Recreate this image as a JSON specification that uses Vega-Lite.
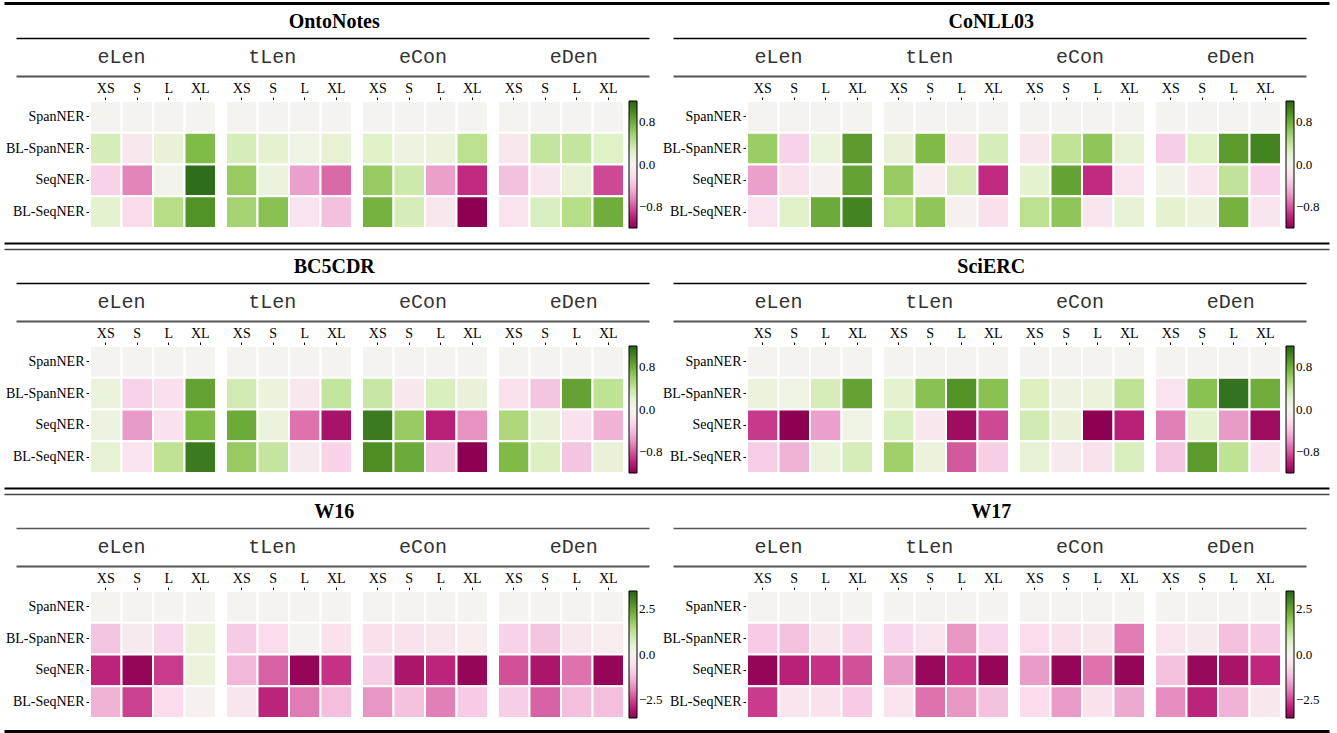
{
"$schema": "https://vega.github.io/schema/vega-lite/v6.json",
"padding": {"left": 5, "top": 0, "right": 0, "bottom": 0},
"config": {
  "font": "Liberation Serif",
  "view": {"stroke": null},
  "title": {"font": "Liberation Serif", "fontSize": 20, "fontWeight": "bold", "color": "black", "anchor": "middle", "offset": 6, "dx": -30},
  "axis": {"labelFont": "Liberation Serif", "labelFontSize": 14, "labelColor": "black", "tickColor": "black", "tickWidth": 1, "grid": false},
  "legend": {"gradientLength": 127, "gradientThickness": 8, "offset": 4, "labelFont": "Liberation Serif", "labelFontSize": 13, "labelColor": "black", "gradientStrokeColor": "black", "gradientStrokeWidth": 1, "labelOffset": 3}
},
"datasets": {
"groups": [{"g":"eLen"},{"g":"tLen"},{"g":"eCon"},{"g":"eDen"}],
"OntoNotes": [
{"g":"eLen","b":"XS","m":"SpanNER","v":0},{"g":"eLen","b":"S","m":"SpanNER","v":0},{"g":"eLen","b":"L","m":"SpanNER","v":0},{"g":"eLen","b":"XL","m":"SpanNER","v":0},
{"g":"tLen","b":"XS","m":"SpanNER","v":0},{"g":"tLen","b":"S","m":"SpanNER","v":0},{"g":"tLen","b":"L","m":"SpanNER","v":0},{"g":"tLen","b":"XL","m":"SpanNER","v":0},
{"g":"eCon","b":"XS","m":"SpanNER","v":0},{"g":"eCon","b":"S","m":"SpanNER","v":0},{"g":"eCon","b":"L","m":"SpanNER","v":0},{"g":"eCon","b":"XL","m":"SpanNER","v":0},
{"g":"eDen","b":"XS","m":"SpanNER","v":0},{"g":"eDen","b":"S","m":"SpanNER","v":0},{"g":"eDen","b":"L","m":"SpanNER","v":0},{"g":"eDen","b":"XL","m":"SpanNER","v":0},
{"g":"eLen","b":"XS","m":"BL-SpanNER","v":0.3},{"g":"eLen","b":"S","m":"BL-SpanNER","v":-0.12},{"g":"eLen","b":"L","m":"BL-SpanNER","v":0.15},{"g":"eLen","b":"XL","m":"BL-SpanNER","v":0.72},
{"g":"tLen","b":"XS","m":"BL-SpanNER","v":0.3},{"g":"tLen","b":"S","m":"BL-SpanNER","v":0.2},{"g":"tLen","b":"L","m":"BL-SpanNER","v":0.07},{"g":"tLen","b":"XL","m":"BL-SpanNER","v":0.17},
{"g":"eCon","b":"XS","m":"BL-SpanNER","v":0.25},{"g":"eCon","b":"S","m":"BL-SpanNER","v":0.1},{"g":"eCon","b":"L","m":"BL-SpanNER","v":0.12},{"g":"eCon","b":"XL","m":"BL-SpanNER","v":0.45},
{"g":"eDen","b":"XS","m":"BL-SpanNER","v":-0.12},{"g":"eDen","b":"S","m":"BL-SpanNER","v":0.4},{"g":"eDen","b":"L","m":"BL-SpanNER","v":0.4},{"g":"eDen","b":"XL","m":"BL-SpanNER","v":0.25},
{"g":"eLen","b":"XS","m":"SeqNER","v":-0.3},{"g":"eLen","b":"S","m":"SeqNER","v":-0.65},{"g":"eLen","b":"L","m":"SeqNER","v":0.03},{"g":"eLen","b":"XL","m":"SeqNER","v":1.15},
{"g":"tLen","b":"XS","m":"SeqNER","v":0.62},{"g":"tLen","b":"S","m":"SeqNER","v":0.12},{"g":"tLen","b":"L","m":"SeqNER","v":-0.55},{"g":"tLen","b":"XL","m":"SeqNER","v":-0.75},
{"g":"eCon","b":"XS","m":"SeqNER","v":0.62},{"g":"eCon","b":"S","m":"SeqNER","v":0.35},{"g":"eCon","b":"L","m":"SeqNER","v":-0.55},{"g":"eCon","b":"XL","m":"SeqNER","v":-0.95},
{"g":"eDen","b":"XS","m":"SeqNER","v":-0.4},{"g":"eDen","b":"S","m":"SeqNER","v":-0.15},{"g":"eDen","b":"L","m":"SeqNER","v":0.17},{"g":"eDen","b":"XL","m":"SeqNER","v":-0.85},
{"g":"eLen","b":"XS","m":"BL-SeqNER","v":0.2},{"g":"eLen","b":"S","m":"BL-SeqNER","v":-0.25},{"g":"eLen","b":"L","m":"BL-SeqNER","v":0.48},{"g":"eLen","b":"XL","m":"BL-SeqNER","v":0.95},
{"g":"tLen","b":"XS","m":"BL-SeqNER","v":0.55},{"g":"tLen","b":"S","m":"BL-SeqNER","v":0.68},{"g":"tLen","b":"L","m":"BL-SeqNER","v":-0.17},{"g":"tLen","b":"XL","m":"BL-SeqNER","v":-0.4},
{"g":"eCon","b":"XS","m":"BL-SeqNER","v":0.77},{"g":"eCon","b":"S","m":"BL-SeqNER","v":0.3},{"g":"eCon","b":"L","m":"BL-SeqNER","v":-0.12},{"g":"eCon","b":"XL","m":"BL-SeqNER","v":-1.2},
{"g":"eDen","b":"XS","m":"BL-SeqNER","v":-0.17},{"g":"eDen","b":"S","m":"BL-SeqNER","v":0.28},{"g":"eDen","b":"L","m":"BL-SeqNER","v":0.48},{"g":"eDen","b":"XL","m":"BL-SeqNER","v":0.8}
],
"CoNLL03": [
{"g":"eLen","b":"XS","m":"SpanNER","v":0},{"g":"eLen","b":"S","m":"SpanNER","v":0},{"g":"eLen","b":"L","m":"SpanNER","v":0},{"g":"eLen","b":"XL","m":"SpanNER","v":0},
{"g":"tLen","b":"XS","m":"SpanNER","v":0},{"g":"tLen","b":"S","m":"SpanNER","v":0},{"g":"tLen","b":"L","m":"SpanNER","v":0},{"g":"tLen","b":"XL","m":"SpanNER","v":0},
{"g":"eCon","b":"XS","m":"SpanNER","v":0},{"g":"eCon","b":"S","m":"SpanNER","v":0},{"g":"eCon","b":"L","m":"SpanNER","v":0},{"g":"eCon","b":"XL","m":"SpanNER","v":0},
{"g":"eDen","b":"XS","m":"SpanNER","v":0},{"g":"eDen","b":"S","m":"SpanNER","v":0},{"g":"eDen","b":"L","m":"SpanNER","v":0},{"g":"eDen","b":"XL","m":"SpanNER","v":0},
{"g":"eLen","b":"XS","m":"BL-SpanNER","v":0.6},{"g":"eLen","b":"S","m":"BL-SpanNER","v":-0.3},{"g":"eLen","b":"L","m":"BL-SpanNER","v":0.12},{"g":"eLen","b":"XL","m":"BL-SpanNER","v":0.9},
{"g":"tLen","b":"XS","m":"BL-SpanNER","v":0.15},{"g":"tLen","b":"S","m":"BL-SpanNER","v":0.72},{"g":"tLen","b":"L","m":"BL-SpanNER","v":-0.12},{"g":"tLen","b":"XL","m":"BL-SpanNER","v":0.3},
{"g":"eCon","b":"XS","m":"BL-SpanNER","v":-0.12},{"g":"eCon","b":"S","m":"BL-SpanNER","v":0.42},{"g":"eCon","b":"L","m":"BL-SpanNER","v":0.65},{"g":"eCon","b":"XL","m":"BL-SpanNER","v":0.17},
{"g":"eDen","b":"XS","m":"BL-SpanNER","v":-0.32},{"g":"eDen","b":"S","m":"BL-SpanNER","v":0.25},{"g":"eDen","b":"L","m":"BL-SpanNER","v":0.9},{"g":"eDen","b":"XL","m":"BL-SpanNER","v":1.03},
{"g":"eLen","b":"XS","m":"SeqNER","v":-0.55},{"g":"eLen","b":"S","m":"SeqNER","v":-0.2},{"g":"eLen","b":"L","m":"SeqNER","v":-0.03},{"g":"eLen","b":"XL","m":"SeqNER","v":0.86},
{"g":"tLen","b":"XS","m":"SeqNER","v":0.62},{"g":"tLen","b":"S","m":"SeqNER","v":-0.05},{"g":"tLen","b":"L","m":"SeqNER","v":0.3},{"g":"tLen","b":"XL","m":"SeqNER","v":-0.95},
{"g":"eCon","b":"XS","m":"SeqNER","v":0.2},{"g":"eCon","b":"S","m":"SeqNER","v":0.86},{"g":"eCon","b":"L","m":"SeqNER","v":-0.95},{"g":"eCon","b":"XL","m":"SeqNER","v":-0.17},
{"g":"eDen","b":"XS","m":"SeqNER","v":0.05},{"g":"eDen","b":"S","m":"SeqNER","v":-0.15},{"g":"eDen","b":"L","m":"SeqNER","v":0.42},{"g":"eDen","b":"XL","m":"SeqNER","v":-0.3},
{"g":"eLen","b":"XS","m":"BL-SeqNER","v":-0.17},{"g":"eLen","b":"S","m":"BL-SeqNER","v":0.25},{"g":"eLen","b":"L","m":"BL-SeqNER","v":0.82},{"g":"eLen","b":"XL","m":"BL-SeqNER","v":1.03},
{"g":"tLen","b":"XS","m":"BL-SeqNER","v":0.45},{"g":"tLen","b":"S","m":"BL-SeqNER","v":0.65},{"g":"tLen","b":"L","m":"BL-SeqNER","v":-0.03},{"g":"tLen","b":"XL","m":"BL-SeqNER","v":-0.22},
{"g":"eCon","b":"XS","m":"BL-SeqNER","v":0.45},{"g":"eCon","b":"S","m":"BL-SeqNER","v":0.65},{"g":"eCon","b":"L","m":"BL-SeqNER","v":-0.15},{"g":"eCon","b":"XL","m":"BL-SeqNER","v":0.17},
{"g":"eDen","b":"XS","m":"BL-SeqNER","v":0.2},{"g":"eDen","b":"S","m":"BL-SeqNER","v":0.12},{"g":"eDen","b":"L","m":"BL-SeqNER","v":0.77},{"g":"eDen","b":"XL","m":"BL-SeqNER","v":-0.15}
],
"BC5CDR": [
{"g":"eLen","b":"XS","m":"SpanNER","v":0},{"g":"eLen","b":"S","m":"SpanNER","v":0},{"g":"eLen","b":"L","m":"SpanNER","v":0},{"g":"eLen","b":"XL","m":"SpanNER","v":0},
{"g":"tLen","b":"XS","m":"SpanNER","v":0},{"g":"tLen","b":"S","m":"SpanNER","v":0},{"g":"tLen","b":"L","m":"SpanNER","v":0},{"g":"tLen","b":"XL","m":"SpanNER","v":0},
{"g":"eCon","b":"XS","m":"SpanNER","v":0},{"g":"eCon","b":"S","m":"SpanNER","v":0},{"g":"eCon","b":"L","m":"SpanNER","v":0},{"g":"eCon","b":"XL","m":"SpanNER","v":0},
{"g":"eDen","b":"XS","m":"SpanNER","v":0},{"g":"eDen","b":"S","m":"SpanNER","v":0},{"g":"eDen","b":"L","m":"SpanNER","v":0},{"g":"eDen","b":"XL","m":"SpanNER","v":0},
{"g":"eLen","b":"XS","m":"BL-SpanNER","v":0.12},{"g":"eLen","b":"S","m":"BL-SpanNER","v":-0.3},{"g":"eLen","b":"L","m":"BL-SpanNER","v":-0.22},{"g":"eLen","b":"XL","m":"BL-SpanNER","v":0.86},
{"g":"tLen","b":"XS","m":"BL-SpanNER","v":0.33},{"g":"tLen","b":"S","m":"BL-SpanNER","v":0.12},{"g":"tLen","b":"L","m":"BL-SpanNER","v":-0.12},{"g":"tLen","b":"XL","m":"BL-SpanNER","v":0.4},
{"g":"eCon","b":"XS","m":"BL-SpanNER","v":0.38},{"g":"eCon","b":"S","m":"BL-SpanNER","v":-0.12},{"g":"eCon","b":"L","m":"BL-SpanNER","v":0.28},{"g":"eCon","b":"XL","m":"BL-SpanNER","v":0.15},
{"g":"eDen","b":"XS","m":"BL-SpanNER","v":-0.2},{"g":"eDen","b":"S","m":"BL-SpanNER","v":-0.38},{"g":"eDen","b":"L","m":"BL-SpanNER","v":0.86},{"g":"eDen","b":"XL","m":"BL-SpanNER","v":0.43},
{"g":"eLen","b":"XS","m":"SeqNER","v":0.1},{"g":"eLen","b":"S","m":"SeqNER","v":-0.57},{"g":"eLen","b":"L","m":"SeqNER","v":-0.2},{"g":"eLen","b":"XL","m":"SeqNER","v":0.72},
{"g":"tLen","b":"XS","m":"SeqNER","v":0.82},{"g":"tLen","b":"S","m":"SeqNER","v":0.12},{"g":"tLen","b":"L","m":"SeqNER","v":-0.72},{"g":"tLen","b":"XL","m":"SeqNER","v":-1.08},
{"g":"eCon","b":"XS","m":"SeqNER","v":1.08},{"g":"eCon","b":"S","m":"SeqNER","v":0.62},{"g":"eCon","b":"L","m":"SeqNER","v":-1.0},{"g":"eCon","b":"XL","m":"SeqNER","v":-0.6},
{"g":"eDen","b":"XS","m":"SeqNER","v":0.52},{"g":"eDen","b":"S","m":"SeqNER","v":0.15},{"g":"eDen","b":"L","m":"SeqNER","v":-0.2},{"g":"eDen","b":"XL","m":"SeqNER","v":-0.48},
{"g":"eLen","b":"XS","m":"BL-SeqNER","v":0.17},{"g":"eLen","b":"S","m":"BL-SeqNER","v":-0.17},{"g":"eLen","b":"L","m":"BL-SeqNER","v":0.43},{"g":"eLen","b":"XL","m":"BL-SeqNER","v":1.08},
{"g":"tLen","b":"XS","m":"BL-SeqNER","v":0.62},{"g":"tLen","b":"S","m":"BL-SeqNER","v":0.4},{"g":"tLen","b":"L","m":"BL-SeqNER","v":-0.1},{"g":"tLen","b":"XL","m":"BL-SeqNER","v":-0.3},
{"g":"eCon","b":"XS","m":"BL-SeqNER","v":0.98},{"g":"eCon","b":"S","m":"BL-SeqNER","v":0.82},{"g":"eCon","b":"L","m":"BL-SeqNER","v":-0.36},{"g":"eCon","b":"XL","m":"BL-SeqNER","v":-1.2},
{"g":"eDen","b":"XS","m":"BL-SeqNER","v":0.72},{"g":"eDen","b":"S","m":"BL-SeqNER","v":0.27},{"g":"eDen","b":"L","m":"BL-SeqNER","v":-0.38},{"g":"eDen","b":"XL","m":"BL-SeqNER","v":0.15}
],
"SciERC": [
{"g":"eLen","b":"XS","m":"SpanNER","v":0},{"g":"eLen","b":"S","m":"SpanNER","v":0},{"g":"eLen","b":"L","m":"SpanNER","v":0},{"g":"eLen","b":"XL","m":"SpanNER","v":0},
{"g":"tLen","b":"XS","m":"SpanNER","v":0},{"g":"tLen","b":"S","m":"SpanNER","v":0},{"g":"tLen","b":"L","m":"SpanNER","v":0},{"g":"tLen","b":"XL","m":"SpanNER","v":0},
{"g":"eCon","b":"XS","m":"SpanNER","v":0},{"g":"eCon","b":"S","m":"SpanNER","v":0},{"g":"eCon","b":"L","m":"SpanNER","v":0},{"g":"eCon","b":"XL","m":"SpanNER","v":0},
{"g":"eDen","b":"XS","m":"SpanNER","v":0},{"g":"eDen","b":"S","m":"SpanNER","v":0},{"g":"eDen","b":"L","m":"SpanNER","v":0},{"g":"eDen","b":"XL","m":"SpanNER","v":0},
{"g":"eLen","b":"XS","m":"BL-SpanNER","v":0.12},{"g":"eLen","b":"S","m":"BL-SpanNER","v":0.07},{"g":"eLen","b":"L","m":"BL-SpanNER","v":0.3},{"g":"eLen","b":"XL","m":"BL-SpanNER","v":0.86},
{"g":"tLen","b":"XS","m":"BL-SpanNER","v":0.2},{"g":"tLen","b":"S","m":"BL-SpanNER","v":0.68},{"g":"tLen","b":"L","m":"BL-SpanNER","v":0.95},{"g":"tLen","b":"XL","m":"BL-SpanNER","v":0.68},
{"g":"eCon","b":"XS","m":"BL-SpanNER","v":0.27},{"g":"eCon","b":"S","m":"BL-SpanNER","v":0.1},{"g":"eCon","b":"L","m":"BL-SpanNER","v":0.12},{"g":"eCon","b":"XL","m":"BL-SpanNER","v":0.43},
{"g":"eDen","b":"XS","m":"BL-SpanNER","v":-0.17},{"g":"eDen","b":"S","m":"BL-SpanNER","v":0.68},{"g":"eDen","b":"L","m":"BL-SpanNER","v":1.12},{"g":"eDen","b":"XL","m":"BL-SpanNER","v":0.8},
{"g":"eLen","b":"XS","m":"SeqNER","v":-0.9},{"g":"eLen","b":"S","m":"SeqNER","v":-1.2},{"g":"eLen","b":"L","m":"SeqNER","v":-0.55},{"g":"eLen","b":"XL","m":"SeqNER","v":0.07},
{"g":"tLen","b":"XS","m":"SeqNER","v":0.28},{"g":"tLen","b":"S","m":"SeqNER","v":-0.12},{"g":"tLen","b":"L","m":"SeqNER","v":-1.12},{"g":"tLen","b":"XL","m":"SeqNER","v":-0.85},
{"g":"eCon","b":"XS","m":"SeqNER","v":0.33},{"g":"eCon","b":"S","m":"SeqNER","v":0.15},{"g":"eCon","b":"L","m":"SeqNER","v":-1.2},{"g":"eCon","b":"XL","m":"SeqNER","v":-1.0},
{"g":"eDen","b":"XS","m":"SeqNER","v":-0.67},{"g":"eDen","b":"S","m":"SeqNER","v":0.2},{"g":"eDen","b":"L","m":"SeqNER","v":-0.57},{"g":"eDen","b":"XL","m":"SeqNER","v":-1.12},
{"g":"eLen","b":"XS","m":"BL-SeqNER","v":-0.33},{"g":"eLen","b":"S","m":"BL-SeqNER","v":-0.48},{"g":"eLen","b":"L","m":"BL-SeqNER","v":0.12},{"g":"eLen","b":"XL","m":"BL-SeqNER","v":0.3},
{"g":"tLen","b":"XS","m":"BL-SeqNER","v":0.58},{"g":"tLen","b":"S","m":"BL-SeqNER","v":0.12},{"g":"tLen","b":"L","m":"BL-SeqNER","v":-0.8},{"g":"tLen","b":"XL","m":"BL-SeqNER","v":-0.32},
{"g":"eCon","b":"XS","m":"BL-SeqNER","v":0.17},{"g":"eCon","b":"S","m":"BL-SeqNER","v":-0.1},{"g":"eCon","b":"L","m":"BL-SeqNER","v":-0.2},{"g":"eCon","b":"XL","m":"BL-SeqNER","v":0.28},
{"g":"eDen","b":"XS","m":"BL-SeqNER","v":-0.36},{"g":"eDen","b":"S","m":"BL-SeqNER","v":0.9},{"g":"eDen","b":"L","m":"BL-SeqNER","v":0.43},{"g":"eDen","b":"XL","m":"BL-SeqNER","v":-0.2}
],
"W16": [
{"g":"eLen","b":"XS","m":"SpanNER","v":0},{"g":"eLen","b":"S","m":"SpanNER","v":0},{"g":"eLen","b":"L","m":"SpanNER","v":0},{"g":"eLen","b":"XL","m":"SpanNER","v":0},
{"g":"tLen","b":"XS","m":"SpanNER","v":0},{"g":"tLen","b":"S","m":"SpanNER","v":0},{"g":"tLen","b":"L","m":"SpanNER","v":0},{"g":"tLen","b":"XL","m":"SpanNER","v":0},
{"g":"eCon","b":"XS","m":"SpanNER","v":0},{"g":"eCon","b":"S","m":"SpanNER","v":0},{"g":"eCon","b":"L","m":"SpanNER","v":0},{"g":"eCon","b":"XL","m":"SpanNER","v":0},
{"g":"eDen","b":"XS","m":"SpanNER","v":0},{"g":"eDen","b":"S","m":"SpanNER","v":0},{"g":"eDen","b":"L","m":"SpanNER","v":0},{"g":"eDen","b":"XL","m":"SpanNER","v":0},
{"g":"eLen","b":"XS","m":"BL-SpanNER","v":-1.1},{"g":"eLen","b":"S","m":"BL-SpanNER","v":-0.3},{"g":"eLen","b":"L","m":"BL-SpanNER","v":-0.8},{"g":"eLen","b":"XL","m":"BL-SpanNER","v":0.35},
{"g":"tLen","b":"XS","m":"BL-SpanNER","v":-1.0},{"g":"tLen","b":"S","m":"BL-SpanNER","v":-0.72},{"g":"tLen","b":"L","m":"BL-SpanNER","v":0.0},{"g":"tLen","b":"XL","m":"BL-SpanNER","v":-0.58},
{"g":"eCon","b":"XS","m":"BL-SpanNER","v":-0.65},{"g":"eCon","b":"S","m":"BL-SpanNER","v":-0.58},{"g":"eCon","b":"L","m":"BL-SpanNER","v":-0.36},{"g":"eCon","b":"XL","m":"BL-SpanNER","v":-0.22},
{"g":"eDen","b":"XS","m":"BL-SpanNER","v":-0.86},{"g":"eDen","b":"S","m":"BL-SpanNER","v":-1.1},{"g":"eDen","b":"L","m":"BL-SpanNER","v":-0.36},{"g":"eDen","b":"XL","m":"BL-SpanNER","v":-0.22},
{"g":"eLen","b":"XS","m":"SeqNER","v":-2.85},{"g":"eLen","b":"S","m":"SeqNER","v":-3.4},{"g":"eLen","b":"L","m":"SeqNER","v":-2.6},{"g":"eLen","b":"XL","m":"SeqNER","v":0.35},
{"g":"tLen","b":"XS","m":"SeqNER","v":-1.35},{"g":"tLen","b":"S","m":"SeqNER","v":-2.25},{"g":"tLen","b":"L","m":"SeqNER","v":-3.4},{"g":"tLen","b":"XL","m":"SeqNER","v":-2.7},
{"g":"eCon","b":"XS","m":"SeqNER","v":-0.93},{"g":"eCon","b":"S","m":"SeqNER","v":-3.1},{"g":"eCon","b":"L","m":"SeqNER","v":-2.85},{"g":"eCon","b":"XL","m":"SeqNER","v":-3.4},
{"g":"eDen","b":"XS","m":"SeqNER","v":-2.4},{"g":"eDen","b":"S","m":"SeqNER","v":-3.1},{"g":"eDen","b":"L","m":"SeqNER","v":-2.1},{"g":"eDen","b":"XL","m":"SeqNER","v":-3.4},
{"g":"eLen","b":"XS","m":"BL-SeqNER","v":-1.4},{"g":"eLen","b":"S","m":"BL-SeqNER","v":-2.55},{"g":"eLen","b":"L","m":"BL-SeqNER","v":-0.72},{"g":"eLen","b":"XL","m":"BL-SeqNER","v":-0.07},
{"g":"tLen","b":"XS","m":"BL-SeqNER","v":-0.43},{"g":"tLen","b":"S","m":"BL-SeqNER","v":-2.85},{"g":"tLen","b":"L","m":"BL-SeqNER","v":-2.0},{"g":"tLen","b":"XL","m":"BL-SeqNER","v":-1.2},
{"g":"eCon","b":"XS","m":"BL-SeqNER","v":-1.7},{"g":"eCon","b":"S","m":"BL-SeqNER","v":-1.15},{"g":"eCon","b":"L","m":"BL-SeqNER","v":-1.95},{"g":"eCon","b":"XL","m":"BL-SeqNER","v":-1.0},
{"g":"eDen","b":"XS","m":"BL-SeqNER","v":-0.93},{"g":"eDen","b":"S","m":"BL-SeqNER","v":-2.25},{"g":"eDen","b":"L","m":"BL-SeqNER","v":-1.2},{"g":"eDen","b":"XL","m":"BL-SeqNER","v":-1.2}
],
"W17": [
{"g":"eLen","b":"XS","m":"SpanNER","v":0},{"g":"eLen","b":"S","m":"SpanNER","v":0},{"g":"eLen","b":"L","m":"SpanNER","v":0},{"g":"eLen","b":"XL","m":"SpanNER","v":0},
{"g":"tLen","b":"XS","m":"SpanNER","v":0},{"g":"tLen","b":"S","m":"SpanNER","v":0},{"g":"tLen","b":"L","m":"SpanNER","v":0},{"g":"tLen","b":"XL","m":"SpanNER","v":0},
{"g":"eCon","b":"XS","m":"SpanNER","v":0},{"g":"eCon","b":"S","m":"SpanNER","v":0},{"g":"eCon","b":"L","m":"SpanNER","v":0},{"g":"eCon","b":"XL","m":"SpanNER","v":0},
{"g":"eDen","b":"XS","m":"SpanNER","v":0},{"g":"eDen","b":"S","m":"SpanNER","v":0},{"g":"eDen","b":"L","m":"SpanNER","v":0},{"g":"eDen","b":"XL","m":"SpanNER","v":0},
{"g":"eLen","b":"XS","m":"BL-SpanNER","v":-1.0},{"g":"eLen","b":"S","m":"BL-SpanNER","v":-1.15},{"g":"eLen","b":"L","m":"BL-SpanNER","v":-0.36},{"g":"eLen","b":"XL","m":"BL-SpanNER","v":-0.86},
{"g":"tLen","b":"XS","m":"BL-SpanNER","v":-0.8},{"g":"tLen","b":"S","m":"BL-SpanNER","v":-0.5},{"g":"tLen","b":"L","m":"BL-SpanNER","v":-1.7},{"g":"tLen","b":"XL","m":"BL-SpanNER","v":-0.8},
{"g":"eCon","b":"XS","m":"BL-SpanNER","v":-0.72},{"g":"eCon","b":"S","m":"BL-SpanNER","v":-0.65},{"g":"eCon","b":"L","m":"BL-SpanNER","v":-0.36},{"g":"eCon","b":"XL","m":"BL-SpanNER","v":-2.0},
{"g":"eDen","b":"XS","m":"BL-SpanNER","v":-0.5},{"g":"eDen","b":"S","m":"BL-SpanNER","v":-0.3},{"g":"eDen","b":"L","m":"BL-SpanNER","v":-1.2},{"g":"eDen","b":"XL","m":"BL-SpanNER","v":-1.0},
{"g":"eLen","b":"XS","m":"SeqNER","v":-3.4},{"g":"eLen","b":"S","m":"SeqNER","v":-2.9},{"g":"eLen","b":"L","m":"SeqNER","v":-2.7},{"g":"eLen","b":"XL","m":"SeqNER","v":-2.4},
{"g":"tLen","b":"XS","m":"SeqNER","v":-1.65},{"g":"tLen","b":"S","m":"SeqNER","v":-3.35},{"g":"tLen","b":"L","m":"SeqNER","v":-2.7},{"g":"tLen","b":"XL","m":"SeqNER","v":-3.4},
{"g":"eCon","b":"XS","m":"SeqNER","v":-1.65},{"g":"eCon","b":"S","m":"SeqNER","v":-3.4},{"g":"eCon","b":"L","m":"SeqNER","v":-2.1},{"g":"eCon","b":"XL","m":"SeqNER","v":-3.4},
{"g":"eDen","b":"XS","m":"SeqNER","v":-1.15},{"g":"eDen","b":"S","m":"SeqNER","v":-3.35},{"g":"eDen","b":"L","m":"SeqNER","v":-3.15},{"g":"eDen","b":"XL","m":"SeqNER","v":-2.8},
{"g":"eLen","b":"XS","m":"BL-SeqNER","v":-2.6},{"g":"eLen","b":"S","m":"BL-SeqNER","v":-0.43},{"g":"eLen","b":"L","m":"BL-SeqNER","v":-0.58},{"g":"eLen","b":"XL","m":"BL-SeqNER","v":-1.0},
{"g":"tLen","b":"XS","m":"BL-SeqNER","v":-0.5},{"g":"tLen","b":"S","m":"BL-SeqNER","v":-2.1},{"g":"tLen","b":"L","m":"BL-SeqNER","v":-1.7},{"g":"tLen","b":"XL","m":"BL-SeqNER","v":-1.15},
{"g":"eCon","b":"XS","m":"BL-SeqNER","v":-0.72},{"g":"eCon","b":"S","m":"BL-SeqNER","v":-1.65},{"g":"eCon","b":"L","m":"BL-SeqNER","v":-0.58},{"g":"eCon","b":"XL","m":"BL-SeqNER","v":-1.5},
{"g":"eDen","b":"XS","m":"BL-SeqNER","v":-1.8},{"g":"eDen","b":"S","m":"BL-SeqNER","v":-2.85},{"g":"eDen","b":"L","m":"BL-SeqNER","v":-1.4},{"g":"eDen","b":"XL","m":"BL-SeqNER","v":-0.36}
]
},
"spacing": 8,
"resolve": {"scale": {"x": "independent", "y": "independent", "color": "independent"}},
"vconcat": [
{"spacing": 14,
 "resolve": {"scale": {"x": "independent", "y": "independent", "color": "independent"}},
 "vconcat": [
  {"spacing": 5,
   "resolve": {"scale": {"x": "independent", "y": "independent", "color": "independent"}},
   "vconcat": [
    {"width": 1239, "height": 1, "data": {"name": "groups"}, "mark": {"type": "point", "opacity": 0},
     "encoding": {"x": {"field": "g", "type": "nominal", "sort": null, "title": null, "scale": {"range": [-86, 1239]}, "axis": {"orient": "top", "labels": false, "ticks": false, "domainColor": "black", "domainWidth": 3}}}},
    {"spacing": -61, "resolve": {"scale": {"x": "independent", "y": "independent", "color": "independent"}},
     "hconcat": [
      {"title": {"text": "OntoNotes"}, "spacing": 5,
       "resolve": {"scale": {"x": "independent", "y": "independent", "color": "independent"}},
       "vconcat": [
        {"data": {"name": "groups"}, "width": 559, "height": 38,
         "layer": [
          {"mark": {"type": "text", "font": "Liberation Mono", "fontSize": 20, "color": "#333"},
           "encoding": {"x": {"field": "g", "type": "nominal", "sort": null, "title": null, "scale": {"type": "band", "range": [-74, 559], "paddingInner": 0, "paddingOuter": 0.1, "align": 1}, "axis": {"orient": "top", "labels": false, "ticks": false, "domainColor": "black", "domainWidth": 1.3}}, "y": {"datum": 0, "type": "quantitative", "scale": {"domain": [-1, 1]}, "axis": null}, "text": {"field": "g"}}},
          {"mark": {"type": "text", "opacity": 0},
           "encoding": {"x": {"field": "g", "type": "nominal", "sort": null, "title": null, "axis": {"orient": "bottom", "labels": false, "ticks": false, "domainColor": "#555", "domainWidth": 2}}, "text": {"field": "g"}}}
         ],
         "resolve": {"axis": {"x": "independent"}}},
        {"data": {"name": "OntoNotes"}, "spacing": 8,
         "facet": {"column": {"field": "g", "type": "nominal", "sort": ["eLen","tLen","eCon","eDen"], "header": {"labels": false, "title": null}}},
         "spec": {"width": 126, "height": 127, "mark": {"type": "rect", "stroke": "white", "strokeWidth": 2},
          "encoding": {
           "x": {"field": "b", "type": "nominal", "sort": ["XS","S","L","XL"], "title": null, "axis": {"orient": "top", "labelAngle": 0, "domain": false, "tickSize": 3, "labelPadding": 2}},
           "y": {"field": "m", "type": "nominal", "sort": ["SpanNER","BL-SpanNER","SeqNER","BL-SeqNER"], "title": null, "axis": {"domain": false, "tickSize": 3, "labelPadding": 2}},
           "color": {"field": "v", "type": "quantitative", "title": null, "scale": {"scheme": "pinkyellowgreen", "domain": [-1.2, 1.2]}, "legend": {"values": [-0.8, 0, 0.8], "format": ".1f"}}}}}
       ]},
      {"title": {"text": "CoNLL03"}, "spacing": 5,
       "resolve": {"scale": {"x": "independent", "y": "independent", "color": "independent"}},
       "vconcat": [
        {"data": {"name": "groups"}, "width": 559, "height": 38,
         "layer": [
          {"mark": {"type": "text", "font": "Liberation Mono", "fontSize": 20, "color": "#333"},
           "encoding": {"x": {"field": "g", "type": "nominal", "sort": null, "title": null, "scale": {"type": "band", "range": [-74, 559], "paddingInner": 0, "paddingOuter": 0.1, "align": 1}, "axis": {"orient": "top", "labels": false, "ticks": false, "domainColor": "black", "domainWidth": 1.3}}, "y": {"datum": 0, "type": "quantitative", "scale": {"domain": [-1, 1]}, "axis": null}, "text": {"field": "g"}}},
          {"mark": {"type": "text", "opacity": 0},
           "encoding": {"x": {"field": "g", "type": "nominal", "sort": null, "title": null, "axis": {"orient": "bottom", "labels": false, "ticks": false, "domainColor": "#555", "domainWidth": 2}}, "text": {"field": "g"}}}
         ],
         "resolve": {"axis": {"x": "independent"}}},
        {"data": {"name": "CoNLL03"}, "spacing": 8,
         "facet": {"column": {"field": "g", "type": "nominal", "sort": ["eLen","tLen","eCon","eDen"], "header": {"labels": false, "title": null}}},
         "spec": {"width": 126, "height": 127, "mark": {"type": "rect", "stroke": "white", "strokeWidth": 2},
          "encoding": {
           "x": {"field": "b", "type": "nominal", "sort": ["XS","S","L","XL"], "title": null, "axis": {"orient": "top", "labelAngle": 0, "domain": false, "tickSize": 3, "labelPadding": 2}},
           "y": {"field": "m", "type": "nominal", "sort": ["SpanNER","BL-SpanNER","SeqNER","BL-SeqNER"], "title": null, "axis": {"domain": false, "tickSize": 3, "labelPadding": 2}},
           "color": {"field": "v", "type": "quantitative", "title": null, "scale": {"scheme": "pinkyellowgreen", "domain": [-1.2, 1.2]}, "legend": {"values": [-0.8, 0, 0.8], "format": ".1f"}}}}}
       ]}
     ]}
   ]},
  {"width": 1239, "height": 6, "data": {"name": "groups"},
   "layer": [
    {"mark": {"type": "point", "opacity": 0}, "encoding": {"x": {"field": "g", "type": "nominal", "sort": null, "title": null, "scale": {"range": [-86, 1239]}, "axis": {"orient": "top", "labels": false, "ticks": false, "domainColor": "black", "domainWidth": 2}}, "y": {"datum": 0, "type": "quantitative", "scale": {"domain": [-1, 1]}, "axis": null}}},
    {"mark": {"type": "point", "opacity": 0}, "encoding": {"x": {"field": "g", "type": "nominal", "sort": null, "title": null, "axis": {"orient": "bottom", "labels": false, "ticks": false, "domainColor": "#444", "domainWidth": 1.5}}}}
   ],
   "resolve": {"axis": {"x": "independent"}}}
 ]},
{"spacing": 14,
 "resolve": {"scale": {"x": "independent", "y": "independent", "color": "independent"}},
 "vconcat": [
  {"spacing": -61, "resolve": {"scale": {"x": "independent", "y": "independent", "color": "independent"}},
   "hconcat": [
    {"title": {"text": "BC5CDR"}, "spacing": 5,
     "resolve": {"scale": {"x": "independent", "y": "independent", "color": "independent"}},
     "vconcat": [
      {"data": {"name": "groups"}, "width": 559, "height": 38,
       "layer": [
        {"mark": {"type": "text", "font": "Liberation Mono", "fontSize": 20, "color": "#333"},
         "encoding": {"x": {"field": "g", "type": "nominal", "sort": null, "title": null, "scale": {"type": "band", "range": [-74, 559], "paddingInner": 0, "paddingOuter": 0.1, "align": 1}, "axis": {"orient": "top", "labels": false, "ticks": false, "domainColor": "black", "domainWidth": 1.3}}, "y": {"datum": 0, "type": "quantitative", "scale": {"domain": [-1, 1]}, "axis": null}, "text": {"field": "g"}}},
        {"mark": {"type": "text", "opacity": 0},
         "encoding": {"x": {"field": "g", "type": "nominal", "sort": null, "title": null, "axis": {"orient": "bottom", "labels": false, "ticks": false, "domainColor": "#555", "domainWidth": 2}}, "text": {"field": "g"}}}
       ],
       "resolve": {"axis": {"x": "independent"}}},
      {"data": {"name": "BC5CDR"}, "spacing": 8,
       "facet": {"column": {"field": "g", "type": "nominal", "sort": ["eLen","tLen","eCon","eDen"], "header": {"labels": false, "title": null}}},
       "spec": {"width": 126, "height": 127, "mark": {"type": "rect", "stroke": "white", "strokeWidth": 2},
        "encoding": {
         "x": {"field": "b", "type": "nominal", "sort": ["XS","S","L","XL"], "title": null, "axis": {"orient": "top", "labelAngle": 0, "domain": false, "tickSize": 3, "labelPadding": 2}},
         "y": {"field": "m", "type": "nominal", "sort": ["SpanNER","BL-SpanNER","SeqNER","BL-SeqNER"], "title": null, "axis": {"domain": false, "tickSize": 3, "labelPadding": 2}},
         "color": {"field": "v", "type": "quantitative", "title": null, "scale": {"scheme": "pinkyellowgreen", "domain": [-1.2, 1.2]}, "legend": {"values": [-0.8, 0, 0.8], "format": ".1f"}}}}}
     ]},
    {"title": {"text": "SciERC"}, "spacing": 5,
     "resolve": {"scale": {"x": "independent", "y": "independent", "color": "independent"}},
     "vconcat": [
      {"data": {"name": "groups"}, "width": 559, "height": 38,
       "layer": [
        {"mark": {"type": "text", "font": "Liberation Mono", "fontSize": 20, "color": "#333"},
         "encoding": {"x": {"field": "g", "type": "nominal", "sort": null, "title": null, "scale": {"type": "band", "range": [-74, 559], "paddingInner": 0, "paddingOuter": 0.1, "align": 1}, "axis": {"orient": "top", "labels": false, "ticks": false, "domainColor": "black", "domainWidth": 1.3}}, "y": {"datum": 0, "type": "quantitative", "scale": {"domain": [-1, 1]}, "axis": null}, "text": {"field": "g"}}},
        {"mark": {"type": "text", "opacity": 0},
         "encoding": {"x": {"field": "g", "type": "nominal", "sort": null, "title": null, "axis": {"orient": "bottom", "labels": false, "ticks": false, "domainColor": "#555", "domainWidth": 2}}, "text": {"field": "g"}}}
       ],
       "resolve": {"axis": {"x": "independent"}}},
      {"data": {"name": "SciERC"}, "spacing": 8,
       "facet": {"column": {"field": "g", "type": "nominal", "sort": ["eLen","tLen","eCon","eDen"], "header": {"labels": false, "title": null}}},
       "spec": {"width": 126, "height": 127, "mark": {"type": "rect", "stroke": "white", "strokeWidth": 2},
        "encoding": {
         "x": {"field": "b", "type": "nominal", "sort": ["XS","S","L","XL"], "title": null, "axis": {"orient": "top", "labelAngle": 0, "domain": false, "tickSize": 3, "labelPadding": 2}},
         "y": {"field": "m", "type": "nominal", "sort": ["SpanNER","BL-SpanNER","SeqNER","BL-SeqNER"], "title": null, "axis": {"domain": false, "tickSize": 3, "labelPadding": 2}},
         "color": {"field": "v", "type": "quantitative", "title": null, "scale": {"scheme": "pinkyellowgreen", "domain": [-1.2, 1.2]}, "legend": {"values": [-0.8, 0, 0.8], "format": ".1f"}}}}}
     ]}
   ]},
  {"width": 1239, "height": 6, "data": {"name": "groups"},
   "layer": [
    {"mark": {"type": "point", "opacity": 0}, "encoding": {"x": {"field": "g", "type": "nominal", "sort": null, "title": null, "scale": {"range": [-86, 1239]}, "axis": {"orient": "top", "labels": false, "ticks": false, "domainColor": "black", "domainWidth": 2}}, "y": {"datum": 0, "type": "quantitative", "scale": {"domain": [-1, 1]}, "axis": null}}},
    {"mark": {"type": "point", "opacity": 0}, "encoding": {"x": {"field": "g", "type": "nominal", "sort": null, "title": null, "axis": {"orient": "bottom", "labels": false, "ticks": false, "domainColor": "#444", "domainWidth": 1.5}}}}
   ],
   "resolve": {"axis": {"x": "independent"}}}
 ]},
{"spacing": 9,
 "resolve": {"scale": {"x": "independent", "y": "independent", "color": "independent"}},
 "vconcat": [
  {"spacing": -61, "resolve": {"scale": {"x": "independent", "y": "independent", "color": "independent"}},
   "hconcat": [
    {"title": {"text": "W16"}, "spacing": 5,
     "resolve": {"scale": {"x": "independent", "y": "independent", "color": "independent"}},
     "vconcat": [
      {"data": {"name": "groups"}, "width": 559, "height": 38,
       "layer": [
        {"mark": {"type": "text", "font": "Liberation Mono", "fontSize": 20, "color": "#333"},
         "encoding": {"x": {"field": "g", "type": "nominal", "sort": null, "title": null, "scale": {"type": "band", "range": [-74, 559], "paddingInner": 0, "paddingOuter": 0.1, "align": 1}, "axis": {"orient": "top", "labels": false, "ticks": false, "domainColor": "#555", "domainWidth": 1.5}}, "y": {"datum": 0, "type": "quantitative", "scale": {"domain": [-1, 1]}, "axis": null}, "text": {"field": "g"}}},
        {"mark": {"type": "text", "opacity": 0},
         "encoding": {"x": {"field": "g", "type": "nominal", "sort": null, "title": null, "axis": {"orient": "bottom", "labels": false, "ticks": false, "domainColor": "#555", "domainWidth": 2}}, "text": {"field": "g"}}}
       ],
       "resolve": {"axis": {"x": "independent"}}},
      {"data": {"name": "W16"}, "spacing": 8,
       "facet": {"column": {"field": "g", "type": "nominal", "sort": ["eLen","tLen","eCon","eDen"], "header": {"labels": false, "title": null}}},
       "spec": {"width": 126, "height": 127, "mark": {"type": "rect", "stroke": "white", "strokeWidth": 2},
        "encoding": {
         "x": {"field": "b", "type": "nominal", "sort": ["XS","S","L","XL"], "title": null, "axis": {"orient": "top", "labelAngle": 0, "domain": false, "tickSize": 3, "labelPadding": 2}},
         "y": {"field": "m", "type": "nominal", "sort": ["SpanNER","BL-SpanNER","SeqNER","BL-SeqNER"], "title": null, "axis": {"domain": false, "tickSize": 3, "labelPadding": 2}},
         "color": {"field": "v", "type": "quantitative", "title": null, "scale": {"scheme": "pinkyellowgreen", "domain": [-3.5, 3.5]}, "legend": {"values": [-2.5, 0, 2.5], "format": ".1f"}}}}}
     ]},
    {"title": {"text": "W17"}, "spacing": 5,
     "resolve": {"scale": {"x": "independent", "y": "independent", "color": "independent"}},
     "vconcat": [
      {"data": {"name": "groups"}, "width": 559, "height": 38,
       "layer": [
        {"mark": {"type": "text", "font": "Liberation Mono", "fontSize": 20, "color": "#333"},
         "encoding": {"x": {"field": "g", "type": "nominal", "sort": null, "title": null, "scale": {"type": "band", "range": [-74, 559], "paddingInner": 0, "paddingOuter": 0.1, "align": 1}, "axis": {"orient": "top", "labels": false, "ticks": false, "domainColor": "#555", "domainWidth": 1.5}}, "y": {"datum": 0, "type": "quantitative", "scale": {"domain": [-1, 1]}, "axis": null}, "text": {"field": "g"}}},
        {"mark": {"type": "text", "opacity": 0},
         "encoding": {"x": {"field": "g", "type": "nominal", "sort": null, "title": null, "axis": {"orient": "bottom", "labels": false, "ticks": false, "domainColor": "#555", "domainWidth": 2}}, "text": {"field": "g"}}}
       ],
       "resolve": {"axis": {"x": "independent"}}},
      {"data": {"name": "W17"}, "spacing": 8,
       "facet": {"column": {"field": "g", "type": "nominal", "sort": ["eLen","tLen","eCon","eDen"], "header": {"labels": false, "title": null}}},
       "spec": {"width": 126, "height": 127, "mark": {"type": "rect", "stroke": "white", "strokeWidth": 2},
        "encoding": {
         "x": {"field": "b", "type": "nominal", "sort": ["XS","S","L","XL"], "title": null, "axis": {"orient": "top", "labelAngle": 0, "domain": false, "tickSize": 3, "labelPadding": 2}},
         "y": {"field": "m", "type": "nominal", "sort": ["SpanNER","BL-SpanNER","SeqNER","BL-SeqNER"], "title": null, "axis": {"domain": false, "tickSize": 3, "labelPadding": 2}},
         "color": {"field": "v", "type": "quantitative", "title": null, "scale": {"scheme": "pinkyellowgreen", "domain": [-3.5, 3.5]}, "legend": {"values": [-2.5, 0, 2.5], "format": ".1f"}}}}}
     ]}
   ]},
  {"width": 1239, "height": 1, "data": {"name": "groups"}, "mark": {"type": "point", "opacity": 0},
   "encoding": {"x": {"field": "g", "type": "nominal", "sort": null, "title": null, "scale": {"range": [-86, 1239]}, "axis": {"orient": "top", "labels": false, "ticks": false, "domainColor": "black", "domainWidth": 3}}}}
 ]}
]
}
